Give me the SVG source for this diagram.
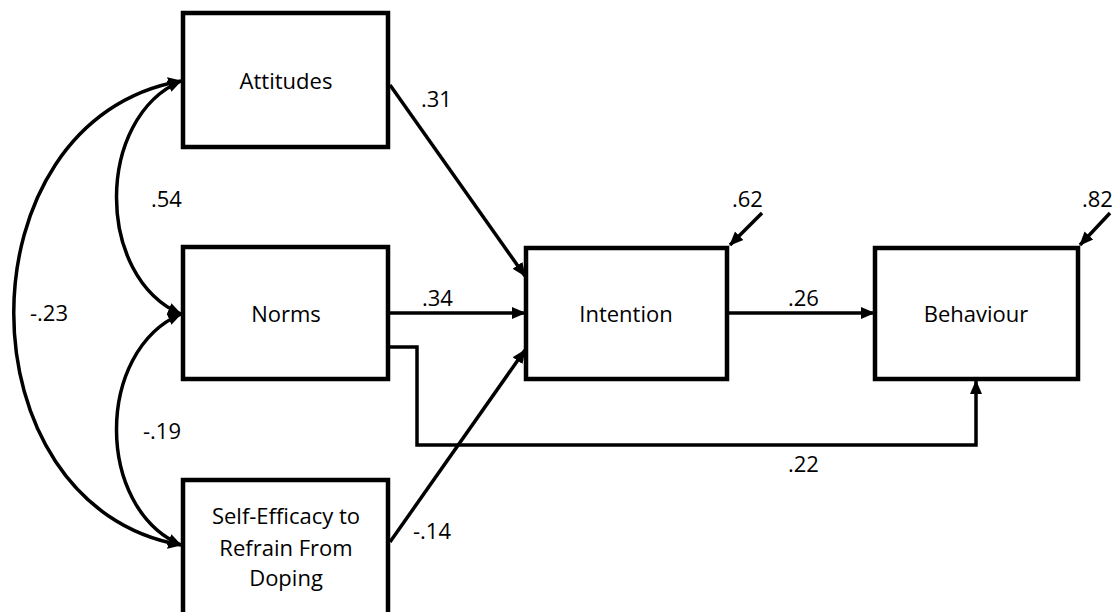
<svg xmlns="http://www.w3.org/2000/svg" width="1114" height="612" viewBox="0 0 1114 612">
<defs>
<style>
.box{fill:#fff;stroke:#000;stroke-width:4.5}
.lbl{font-family:"Open Sans","Noto Sans",sans-serif;font-size:22px;fill:#000;text-anchor:middle}
.num{font-family:"Open Sans","Noto Sans",sans-serif;font-size:22px;fill:#000}
.edge{fill:none;stroke:#000;stroke-width:3.5}
.arr{marker-end:url(#ah)}
.both{marker-start:url(#ah);marker-end:url(#ah)}
</style>
<marker id="ah" markerUnits="userSpaceOnUse" markerWidth="14" markerHeight="14" refX="13" refY="7" orient="auto-start-reverse" viewBox="0 0 14 14">
<path d="M0,1 L14,7 L0,13 z" fill="#000"/>
</marker>
</defs>
<rect width="1114" height="612" fill="#fff"/>
<g id="connectors">
<path class="edge both" d="M181,81 C95,118 95,277 181,314"/>
<path class="edge both" d="M181,314 C95,351 95,508 181,545"/>
<path class="edge both" d="M181,81 C-42,120 -42,506 181,545"/>
<path class="edge arr" d="M390,85 L525,276"/>
<path class="edge arr" d="M390,313 L525,313"/>
<path class="edge arr" d="M390,542 L525,350"/>
<path class="edge arr" d="M729,313 L874,313"/>
<path class="edge arr" d="M390,347 L417,347 L417,445 L976,445 L976,381"/>
<path class="edge arr" d="M762,213 L730,245"/>
<path class="edge arr" d="M1110,213 L1080,245"/>
</g>
<g id="attitudes"><rect class="box" x="183" y="13" width="205" height="134"/><text class="lbl" x="286" y="89">Attitudes</text></g>
<g id="norms"><rect class="box" x="183" y="247" width="205" height="132"/><text class="lbl" x="286" y="322">Norms</text></g>
<g id="selfefficacy"><rect class="box" x="183" y="480" width="205" height="150"/><text class="lbl" x="286" y="524">Self-Efficacy to</text><text class="lbl" x="286" y="556">Refrain From</text><text class="lbl" x="286" y="586">Doping</text></g>
<g id="intention"><rect class="box" x="526" y="248" width="201" height="131"/><text class="lbl" x="626" y="322">Intention</text></g>
<g id="behaviour"><rect class="box" x="875" y="248" width="203" height="131"/><text class="lbl" x="976" y="322">Behaviour</text></g>
<g id="labels">
<text class="num" x="421" y="107">.31</text>
<text class="num" x="151" y="207">.54</text>
<text class="num" x="30" y="321">-.23</text>
<text class="num" x="143" y="439">-.19</text>
<text class="num" x="422" y="306">.34</text>
<text class="num" x="413" y="539">-.14</text>
<text class="num" x="732" y="207">.62</text>
<text class="num" x="1082" y="207">.82</text>
<text class="num" x="788" y="306">.26</text>
<text class="num" x="788" y="472">.22</text>
</g>
</svg>
